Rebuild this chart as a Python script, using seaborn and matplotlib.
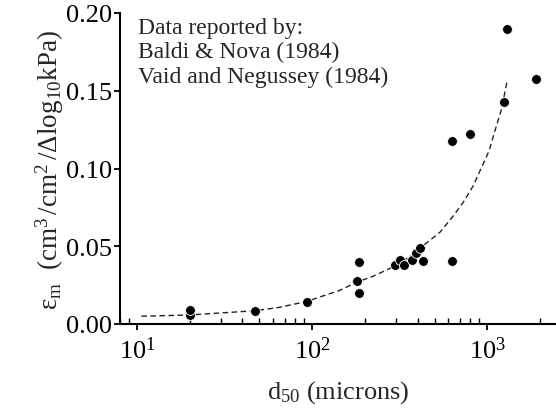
import matplotlib
matplotlib.use("Agg")
import matplotlib.pyplot as plt
import seaborn as sns
import pandas as pd
from matplotlib.ticker import LogLocator

# measured points (d50 in microns, strain coefficient)
d50 = [20, 20, 47, 93, 181, 186, 186, 297, 318, 334,
       372, 392, 413, 431, 628, 627, 793, 1245, 1297, 1905]
eps_m = [0.0060, 0.0090, 0.0082, 0.0143, 0.0277, 0.0199, 0.0397, 0.0381, 0.0412, 0.0379,
         0.0410, 0.0457, 0.0487, 0.0403, 0.0405, 0.1179, 0.1220, 0.1426, 0.1900, 0.1576]

# dashed trend line
trend_x = [10.6, 20, 30, 47, 65, 93, 126, 141, 181, 223, 300,
           370, 431, 537, 640, 730, 832, 948, 1026, 1107, 1208, 1300]
trend_y = [0.0050, 0.0058, 0.0071, 0.0085, 0.0107, 0.0145, 0.0195, 0.0212, 0.0270, 0.0307, 0.0375,
           0.0440, 0.0504, 0.0590, 0.0695, 0.0783, 0.0889, 0.1030, 0.1115, 0.1243, 0.1383, 0.1565]

y_ticks = [0.00, 0.05, 0.10, 0.15, 0.20]
note_lines = ["Data reported by:", "Baldi & Nova (1984)", "Vaid and Negussey (1984)"]

pts = pd.DataFrame({"d50": d50, "eps": eps_m})
trend = pd.DataFrame({"d50": trend_x, "eps": trend_y})

sns.set_theme(style="ticks")
plt.rcParams["font.family"] = ["Liberation Serif", "DejaVu Serif"]
plt.rcParams["mathtext.fontset"] = "custom"
plt.rcParams["mathtext.rm"] = "Liberation Serif"
plt.rcParams["mathtext.it"] = "Liberation Serif:italic"

fig = plt.figure(figsize=(5.56, 4.10), dpi=100)
ax = fig.add_axes([120 / 556, 85 / 410, 1 - 120 / 556, 311 / 410])
ax.set_xscale("log")

sns.lineplot(data=trend, x="d50", y="eps", ax=ax, color="#222222",
             linewidth=1.0, sort=False, zorder=2)
ax.lines[-1].set_dashes((4, 2.5))
sns.scatterplot(data=pts, x="d50", y="eps", ax=ax, color="black", s=50,
                edgecolor="white", linewidth=0.6, zorder=3)

ax.set_xlim(8, 2470)
ax.set_ylim(0, 0.20)
ax.set_yticks(y_ticks)
ax.set_yticklabels([f"{v:.2f}" for v in y_ticks])
ax.xaxis.set_major_locator(LogLocator(base=10, numticks=10))
ax.xaxis.set_minor_locator(LogLocator(base=10, subs=range(2, 10), numticks=20))

for s in ["top", "right"]:
    ax.spines[s].set_visible(False)
for s in ["left", "bottom"]:
    ax.spines[s].set_linewidth(1.5)
    ax.spines[s].set_color("black")

ax.tick_params(axis="y", which="major", direction="out", length=4, width=1.3,
               labelsize=19, pad=2, colors="black")
ax.tick_params(axis="x", which="major", direction="out", length=4, width=1.3,
               labelsize=19, pad=5, colors="black")
ax.tick_params(axis="x", which="minor", direction="in", length=4, width=1.0, colors="black")

ax.set_xlabel(r"$\mathdefault{d_{50}}$ (microns)", fontsize=19, labelpad=11)
ax.set_ylabel(r"$\mathdefault{\varepsilon_m\ \ (cm^3\,/cm^2\,/\Delta log_{10}kPa)}$",
              fontsize=19.5, labelpad=0)

fig.text(138 / 556, 1 - 18 / 410, "\n".join(note_lines), fontsize=17,
         va="top", ha="left", linespacing=1.2)

fig.savefig("out.png", dpi=100)
